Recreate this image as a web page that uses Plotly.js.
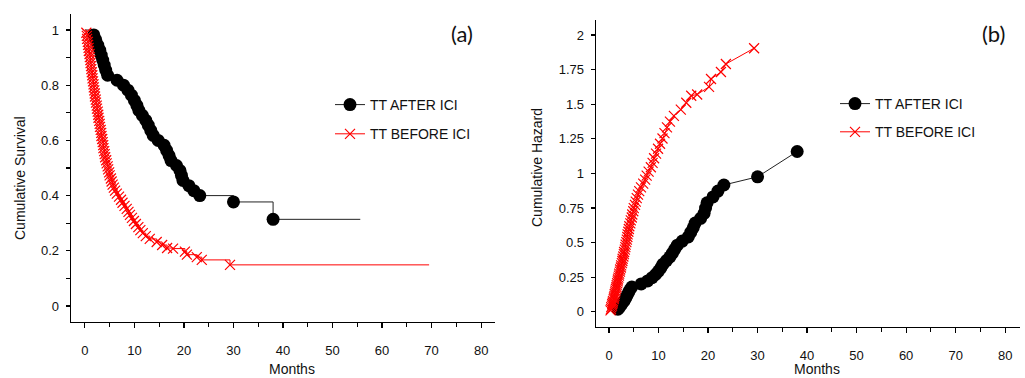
<!DOCTYPE html>
<html><head><meta charset="utf-8">
<script src="https://cdn.plot.ly/plotly-3.0.1.min.js"></script>
<style>html,body{margin:0;padding:0;background:#fff}#chart{width:1025px;height:378px}</style>
</head><body><div id="chart"></div>
<script>
// ---- data ----
const seriesNames = ['TT AFTER ICI', 'TT BEFORE ICI'];
const panelLabels = ['(a)', '(b)'];
const axisTitles = {months: 'Months', survival: 'Cumulative Survival', hazard: 'Cumulative Hazard'};

const afterMonths = [1.8,2.2,2.6,3.0,3.3,3.6,3.9,4.2,4.6,6.5,7.8,8.7,9.4,10.0,10.5,10.9,11.6,12.3,12.8,13.3,13.8,14.8,16.0,16.5,17.0,17.4,18.5,19.2,19.5,19.8,21.0,22.0,23.2,30.0,38.0];
const afterSurvival = [.982,.964,.945,.927,.909,.891,.873,.855,.836,.818,.800,.782,.764,.745,.727,.709,.691,.673,.655,.636,.618,.600,.582,.564,.545,.527,.509,.491,.473,.455,.436,.418,.400,.377,.314];
const afterHazard = [.018,.037,.057,.076,.095,.115,.136,.157,.179,.201,.223,.246,.269,.294,.319,.344,.370,.396,.423,.453,.481,.511,.541,.573,.607,.641,.675,.711,.749,.787,.830,.872,.916,.975,1.158];
const afterFollowUpEnd = 55.6;

const beforeMonths = [0.3,0.4,0.45,0.6,0.65,0.75,0.8,0.95,1.0,1.1,1.15,1.25,1.3,1.4,1.5,1.55,1.65,1.75,1.8,1.9,2.0,2.05,2.2,2.25,2.4,2.45,2.6,2.7,2.75,2.9,3.0,3.05,3.2,3.3,3.35,3.5,3.6,3.7,3.75,3.9,4.0,4.1,4.3,4.4,4.6,4.7,4.9,5.0,5.25,5.4,5.6,5.85,6.1,6.45,6.9,7.3,7.6,8.0,8.45,8.8,9.1,9.5,9.9,10.3,10.8,11.2,11.7,12.3,13.1,14.5,15.6,16.6,17.8,20.2,20.6,22.6,23.6,29.3];
const beforeSurvival = [.990,.979,.968,.957,.946,.935,.924,.913,.902,.891,.880,.869,.858,.847,.836,.825,.814,.803,.792,.781,.770,.759,.748,.737,.726,.715,.704,.693,.682,.671,.660,.649,.638,.627,.616,.605,.594,.583,.572,.561,.550,.539,.528,.517,.506,.495,.484,.473,.462,.451,.440,.429,.418,.407,.396,.385,.374,.363,.352,.341,.330,.319,.308,.297,.286,.275,.264,.253,.243,.232,.221,.210,.208,.197,.186,.177,.167,.149];
const beforeHazard = [.010,.021,.033,.044,.056,.067,.079,.091,.103,.115,.128,.140,.153,.166,.179,.192,.206,.219,.233,.247,.261,.276,.290,.305,.320,.335,.351,.367,.383,.399,.416,.432,.449,.467,.485,.503,.521,.540,.559,.578,.598,.618,.639,.660,.681,.703,.726,.749,.772,.796,.821,.846,.872,.899,.926,.955,.983,1.013,1.044,1.076,1.109,1.143,1.178,1.214,1.252,1.291,1.332,1.374,1.415,1.461,1.510,1.561,1.570,1.625,1.682,1.732,1.790,1.904];
const beforeFollowUpEnd = 69.5;

const monthTicks = [0,10,20,30,40,50,60,70,80];
const survivalTicks = [0,0.2,0.4,0.6,0.8,1];
const survivalTickText = ['0','0.2','0.4','0.6','0.8','1'];
const hazardTicks = [0,0.25,0.5,0.75,1,1.25,1.5,1.75,2];
const hazardTickText = ['0','0.25','0.5','0.75','1','1.25','1.5','1.75','2'];

// ---- styles ----
const W = 1025, H = 378;
const FONT = '"Liberation Sans", Arial, sans-serif';
const blackMarker = {symbol: 'circle', size: 13, color: '#000'};
const redMarker = {symbol: 'x-thin-open', size: 10, color: '#ff0000', line: {color: '#ff0000', width: 1.2}};
const blackLine = {color: '#222', width: 1};
const redLine = {color: '#ff0000', width: 1};

const traces = [
  // Panel (a): survival step curves
  {x: [0, ...afterMonths, afterFollowUpEnd], y: [1, ...afterSurvival, afterSurvival[afterSurvival.length-1]],
   mode: 'lines', line: Object.assign({shape: 'hv'}, blackLine), xaxis: 'x', yaxis: 'y', showlegend: false, hoverinfo: 'skip'},
  {x: afterMonths, y: afterSurvival, mode: 'markers', marker: blackMarker, xaxis: 'x', yaxis: 'y', showlegend: false},
  {x: [0, ...beforeMonths, beforeFollowUpEnd], y: [1, ...beforeSurvival, beforeSurvival[beforeSurvival.length-1]],
   mode: 'lines', line: Object.assign({shape: 'hv'}, redLine), xaxis: 'x', yaxis: 'y', showlegend: false, hoverinfo: 'skip'},
  {x: beforeMonths, y: beforeSurvival, mode: 'markers', marker: redMarker, xaxis: 'x', yaxis: 'y', showlegend: false},
  // legend entries for panel (a)
  {x: [null], y: [null], name: seriesNames[0], mode: 'lines+markers', marker: blackMarker, line: blackLine,
   xaxis: 'x', yaxis: 'y', legend: 'legend', legendgroup: 'a1'},
  {x: [null], y: [null], name: seriesNames[1], mode: 'lines+markers', marker: redMarker, line: redLine,
   xaxis: 'x', yaxis: 'y', legend: 'legend', legendgroup: 'a2'},
  // Panel (b): cumulative hazard
  {x: afterMonths, y: afterHazard, name: seriesNames[0], mode: 'lines+markers', marker: blackMarker, line: blackLine,
   xaxis: 'x2', yaxis: 'y2', legend: 'legend2', legendgroup: 'b1'},
  {x: beforeMonths, y: beforeHazard, name: seriesNames[1], mode: 'lines+markers', marker: redMarker, line: redLine,
   xaxis: 'x2', yaxis: 'y2', legend: 'legend2', legendgroup: 'b2'}
];

function xAxis(domain, anchor, range) {
  return {domain: domain, anchor: anchor, range: range, tickmode: 'array', tickvals: monthTicks,
    ticks: 'outside', ticklen: 5, tickwidth: 1.2, tickcolor: '#000', showline: true, linecolor: '#000', linewidth: 1.3,
    showgrid: false, zeroline: false, ticklabelstandoff: 11, tickfont: {family: FONT, size: 13, color: '#111'},
    minor: {tickmode: 'linear', tick0: 0, dtick: 5, ticks: 'outside', ticklen: 4, tickwidth: 1.1, tickcolor: '#000'}};
}
function yAxis(domain, anchor, range, vals, text, minor) {
  const ax = {domain: domain, anchor: anchor, range: range, tickmode: 'array', tickvals: vals, ticktext: text,
    ticks: 'outside', ticklen: 4, tickwidth: 1.2, tickcolor: '#000', showline: true, linecolor: '#000', linewidth: 1.3,
    showgrid: false, zeroline: false, ticklabelstandoff: 4, tickfont: {family: FONT, size: 13, color: '#111'}};
  if (minor) ax.minor = {tickmode: 'linear', tick0: 0, dtick: minor, ticks: 'outside', ticklen: 4, tickwidth: 1.1, tickcolor: '#000'};
  return ax;
}
function ann(text, px, py, opts) {
  return Object.assign({text: text, xref: 'paper', yref: 'paper', x: px / W, y: 1 - py / H,
    xanchor: 'center', yanchor: 'middle', showarrow: false, font: {family: FONT, size: 14, color: '#111'}}, opts || {});
}
const legendStyle = {font: {family: FONT, size: 14, color: '#111'}, bgcolor: 'rgba(0,0,0,0)', tracegroupgap: 8,
  traceorder: 'grouped', xanchor: 'left', yanchor: 'top'};

const layout = {
  width: W, height: H, margin: {l: 0, r: 0, t: 0, b: 0}, paper_bgcolor: '#fff', plot_bgcolor: '#fff',
  xaxis: xAxis([71 / W, 495 / W], 'y', [-2.8, 82.8]),
  yaxis: yAxis([(H - 322) / H, (H - 14) / H], 'x', [-0.058, 1.058], survivalTicks, survivalTickText, 0.1),
  xaxis2: xAxis([596 / W, 1020 / W], 'y2', [-2.63, 83.0]),
  yaxis2: yAxis([(H - 326.7) / H, (H - 20) / H], 'x2', [-0.108, 2.108], hazardTicks, hazardTickText, null),
  legend: Object.assign({x: 330 / W, y: 1 - 89 / H}, legendStyle),
  legend2: Object.assign({x: 835 / W, y: 1 - 88 / H, tracegroupgap: 7}, legendStyle),
  annotations: [
    ann(panelLabels[0], 462, 33, {font: {family: 'Lato, "Open Sans", sans-serif', size: 22, color: '#111'}}),
    ann(panelLabels[1], 993, 33, {font: {family: 'Lato, "Open Sans", sans-serif', size: 22, color: '#111'}}),
    ann(axisTitles.survival, 20, 178, {textangle: -90}),
    ann(axisTitles.hazard, 537, 168, {textangle: -90}),
    ann(axisTitles.months, 292, 369),
    ann(axisTitles.months, 817, 369)
  ]
};
layout.legend2.tracegroupgap = 7;

Plotly.newPlot('chart', traces, layout, {displayModeBar: false, staticPlot: true});
</script>
</body></html>
